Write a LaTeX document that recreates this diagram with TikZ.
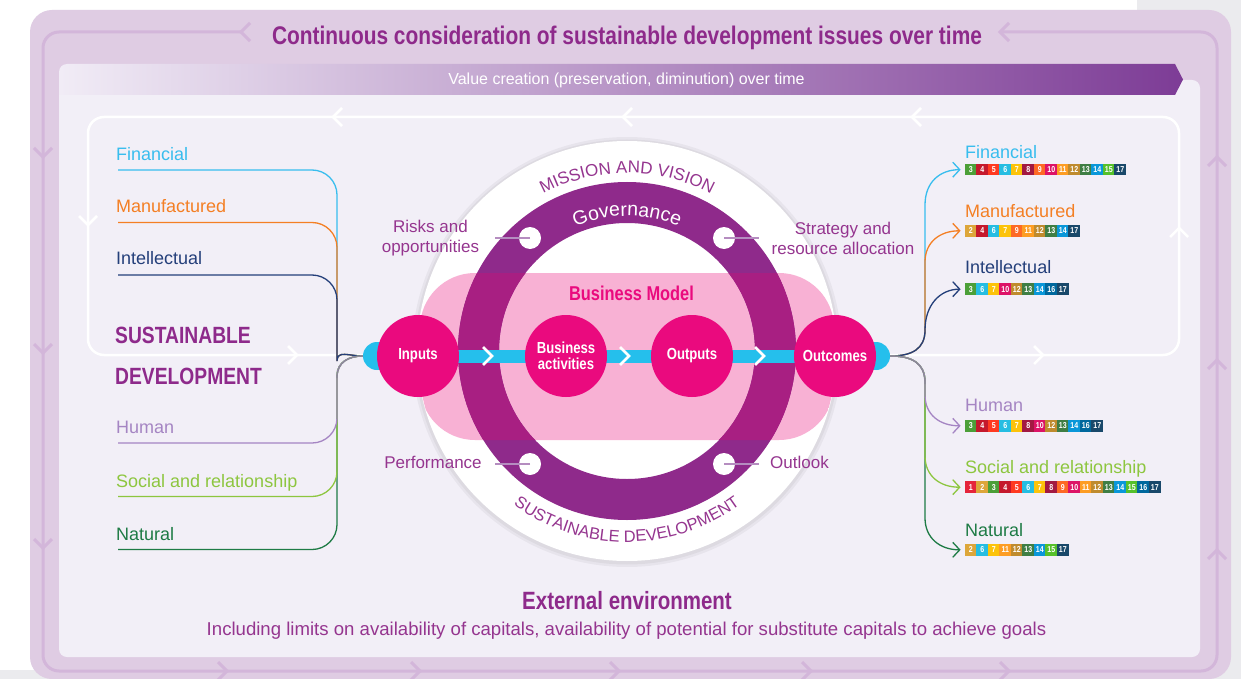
\documentclass[tikz,border=0pt]{standalone}
\usepackage{fontspec}
\setmainfont{Liberation Sans}
\newfontfamily\condf{Liberation Sans}[FakeStretch=0.82]
\usetikzlibrary{decorations.text,arrows.meta}
\definecolor{framec}{HTML}{DFCCE3}
\definecolor{framel}{HTML}{D3B6DA}
\definecolor{panelc}{HTML}{F2EFF7}
\definecolor{grayc}{HTML}{EBEBEE}
\definecolor{purpt}{HTML}{8E2A8B}
\definecolor{purpl}{HTML}{95358F}
\definecolor{ringc}{HTML}{8F2A8B}
\definecolor{ringp}{HTML}{A81F82}
\definecolor{pinkc}{HTML}{F8B1D4}
\definecolor{magc}{HTML}{EA0A7E}
\definecolor{cyanc}{HTML}{25BFEC}
\definecolor{leadc}{HTML}{B58DC0}
\definecolor{banl}{HTML}{F1ECF6}
\definecolor{banr}{HTML}{7D3C96}
\definecolor{finc}{HTML}{38BDEE}
\definecolor{manc}{HTML}{F47F24}
\definecolor{intc}{HTML}{243F7A}
\definecolor{humc}{HTML}{A585C3}
\definecolor{socc}{HTML}{8DC63F}
\definecolor{natc}{HTML}{1E7B45}
\definecolor{grayl}{HTML}{8C8898}
\definecolor{sdg1}{HTML}{E5243B}
\definecolor{sdg2}{HTML}{DDA63A}
\definecolor{sdg3}{HTML}{4C9F38}
\definecolor{sdg4}{HTML}{C5192D}
\definecolor{sdg5}{HTML}{FF3A21}
\definecolor{sdg6}{HTML}{26BDE2}
\definecolor{sdg7}{HTML}{FCC30B}
\definecolor{sdg8}{HTML}{A21942}
\definecolor{sdg9}{HTML}{FD6925}
\definecolor{sdg10}{HTML}{DD1367}
\definecolor{sdg11}{HTML}{FD9D24}
\definecolor{sdg12}{HTML}{BF8B2E}
\definecolor{sdg13}{HTML}{3F7E44}
\definecolor{sdg14}{HTML}{0A97D9}
\definecolor{sdg15}{HTML}{56C02B}
\definecolor{sdg16}{HTML}{00689D}
\definecolor{sdg17}{HTML}{19486A}
\tikzset{
  frameline/.style={draw=framel, line width=3pt},
  framechev/.style={draw=framel, line width=3pt},
  wline/.style={draw=white, line width=2.5pt},
  wchev/.style={draw=white, line width=2.5pt},
  barchev/.style={draw=white, line width=2.5pt},
  capl/.style={line width=1.3pt},
  capr/.style={line width=1.3pt, -{Straight Barb[length=7pt,width=15pt]}},
  leftlab/.style={anchor=base west, inner sep=0pt, font=\fontsize{18}{18}\selectfont},
  lbl/.style={text=purpl, inner sep=0pt, align=center, font=\fontsize{17}{20}\selectfont},
  bigc/.style={circle, fill=magc, minimum size=82pt, inner sep=0pt, text=white, align=center,
    font=\condf\bfseries\fontsize{16}{16.5}\selectfont},
  smallc/.style={circle, fill=cyanc, minimum size=28pt, inner sep=0pt},
  wdot/.style={circle, fill=white, minimum size=22pt, inner sep=0pt},
  leader/.style={draw=leadc, line width=1.3pt},
  bar/.style={draw=cyanc, line width=13pt},
  sdgbox/.style={minimum width=11.9pt, minimum height=11.5pt, inner sep=0pt, text=white,
    font=\condf\bfseries\fontsize{8.6}{8.6}\selectfont},
  condtitle/.style={inner sep=0pt, text=purpt, font=\condf\bfseries\fontsize{25.5}{26}\selectfont},
}
\newcommand\sdgrow[4]{%
  \foreach \n [count=\i from 0] in {#4} {%
    \node[sdgbox, fill=sdg\n] (#1\i) at ({#2+5.75+11.5*\i},#3) {\n};
  }}
\newcommand\chev[4]{%
  \draw[#4, rotate around={#3:(#1,#2)}] ({#1-9},{#2-9}) -- (#1,#2) -- ({#1-9},{#2+9});}
\begin{document}
\begin{tikzpicture}[x=1pt,y=-1pt]
\useasboundingbox (0,0) rectangle (1241,679);
\fill[white] (0,0) rectangle (1241,679);
\fill[grayc] (1137,0) rectangle (1241,679);
\fill[grayc] (0,670) rectangle (1241,679);
% outer frame
\fill[framec, rounded corners=22pt] (30,10) rectangle (1231,679);
\draw[frameline, rounded corners=16pt] (241,32) -- (43,32) -- (43,671) -- (1217,671) -- (1217,32) -- (1000,32);
\chev{241}{32}{180}{framechev}
\chev{1000}{32}{180}{framechev}
\chev{43}{157}{-90}{framechev}
\chev{43}{353}{-90}{framechev}
\chev{43}{548}{-90}{framechev}
\chev{227}{671}{0}{framechev}
\chev{420}{671}{0}{framechev}
\chev{619}{671}{0}{framechev}
\chev{811}{671}{0}{framechev}
\chev{1009}{671}{0}{framechev}
\chev{1217}{157}{90}{framechev}
\chev{1217}{360}{90}{framechev}
\chev{1217}{550}{90}{framechev}
\node[condtitle, anchor=base] (title) at (627,45) {Continuous consideration of sustainable development issues over time};
% panel
\fill[panelc, rounded corners=8pt] (59,80) rectangle (1200,657);
\shade[left color=banl, right color=banr] (59,95) -- (59,72) .. controls (59,67.6) and (62.6,64) .. (67,64) -- (1175,64) -- (1183,79.5) -- (1175,95) -- cycle;
\node[inner sep=0pt, text=white, font=\fontsize{16}{16}\selectfont] (vc) at (626.5,80) {Value creation (preservation, diminution) over time};
% white loop
\draw[wline, rounded corners=16pt] (88,117) rectangle (1179,355);
\chev{333}{117}{180}{wchev}
\chev{623}{117}{180}{wchev}
\chev{912}{117}{180}{wchev}
\chev{88}{225}{-90}{wchev}
\chev{297}{355}{0}{wchev}
\chev{1043}{355}{0}{wchev}
\chev{1179}{228}{90}{wchev}
% left big title
\node[inner sep=0pt, anchor=base west, text=purpt, font=\condf\bfseries\fontsize{23.5}{24}\selectfont] (sd1) at (115,343) {SUSTAINABLE};
\node[inner sep=0pt, anchor=base west, text=purpt, font=\condf\bfseries\fontsize{23.5}{24}\selectfont] (sd2) at (115,384) {DEVELOPMENT};
% central disc
\fill[black, opacity=0.045] (627,352) circle[radius=215pt];
\fill[black, opacity=0.045] (627,352) circle[radius=212.5pt];
\node[circle, fill=white, minimum size=420pt, inner sep=0pt] (disc) at (627,351) {};
\begin{scope}
  \clip (627,351) circle[radius=209.5pt];
  \fill[pinkc, rounded corners=55pt] (420,273) rectangle (834,440);
\end{scope}
\fill[ringc, even odd rule] (627,351) circle[radius=169pt] (627,351) circle[radius=128pt];
\begin{scope}
  \clip[rounded corners=55pt] (420,273) rectangle (834,440);
  \fill[ringp, even odd rule] (627,351) circle[radius=169pt] (627,351) circle[radius=128pt];
\end{scope}
\begin{scope}[shift={(627,351)}, y=1pt]
  \path[decorate, decoration={text along path, text align=center,
    text={|\fontsize{17}{17}\selectfont\color{purpl}|MISSION AND VISION}}]
    (150:178pt) arc[start angle=150, end angle=30, radius=178pt];
  \path[decorate, decoration={text along path, text align=center,
    text={|\fontsize{19.5}{19.5}\selectfont\color{white}|Governance}}]
    (150:135pt) arc[start angle=150, end angle=30, radius=135pt];
  \path[decorate, decoration={text along path, text align=center,
    text={|\fontsize{16.5}{16.5}\selectfont\color{purpl}|SUSTAINABLE DEVELOPMENT}}]
    (205:191pt) arc[start angle=205, end angle=335, radius=191pt];
\end{scope}
\node[inner sep=0pt, text=magc, font=\condf\bfseries\fontsize{20}{20}\selectfont] (bmodel) at (631.5,293.5) {Business Model};
% ring dots and labels
\node[wdot] (dRO) at (530,238) {};
\node[wdot] (dSR) at (724,238) {};
\node[wdot] (dPF) at (530,464) {};
\node[wdot] (dOL) at (724,464) {};
\draw[leader] (dRO.center) -- ++(-35,0);
\draw[leader] (dSR.center) -- ++(35,0);
\draw[leader] (dPF.center) -- ++(-35,0);
\draw[leader] (dOL.center) -- ++(35,0);
\node[lbl] (risks) at (430.5,238) {Risks and\\opportunities};
\node[lbl] (strat) at (843,238) {Strategy and\\resource allocation};
\node[lbl, anchor=base] (perf) at (433,468.5) {Performance};
\node[lbl, anchor=base] (outl) at (799.5,468.5) {Outlook};
% value chain
\node[smallc] (inL) at (377,356) {};
\node[smallc] (outR) at (876,356) {};
\draw[bar] (inL.center) -- (outR.center);
\chev{492}{356}{0}{barchev}
\chev{629}{356}{0}{barchev}
\chev{764}{356}{0}{barchev}
\node[bigc] (inputs) at (418,356) {Inputs};
\node[bigc] (bact) at (566,356) {Business\\activities};
\node[bigc] (outp) at (692,356) {Outputs};
\node[bigc] (outc) at (835,356) {Outcomes};
% left capitals
\node[leftlab, text=finc] (lFin) at (116,160.5) {Financial};
\node[leftlab, text=manc] (lMan) at (116,212.5) {Manufactured};
\node[leftlab, text=intc] (lInt) at (116,264.5) {Intellectual};
\node[leftlab, text=humc] (lHum) at (116,433) {Human};
\node[leftlab, text=socc] (lSoc) at (116,487) {Social and relationship};
\node[leftlab, text=natc] (lNat) at (116,540) {Natural};
\coordinate (uFin) at (118,170);
\coordinate (uMan) at (118,222.5);
\coordinate (uInt) at (118,275);
\coordinate (uHum) at (118,443);
\coordinate (uSoc) at (118,496.5);
\coordinate (uNat) at (118,549.5);
\draw[capl, finc, rounded corners=25pt] (uFin) -- (337,170) -- (337,336) [sharp corners] .. controls (337,350) and (349,356) .. (inL.west);
\draw[capl, manc, rounded corners=25pt] (uMan) -- (337,222.5) -- (337,336) [sharp corners] .. controls (337,350) and (349,356) .. (inL.west);
\draw[capl, intc, rounded corners=25pt] (uInt) -- (337,275) -- (337,336) [sharp corners] .. controls (337,350) and (349,356) .. (inL.west);
\draw[capl, natc] (inL.west) .. controls (349,356) and (337,362) .. (337,376) [rounded corners=25pt] -- (337,549.5) -- (uNat);
\draw[capl, socc] (inL.west) .. controls (349,356) and (337,362) .. (337,376) [rounded corners=25pt] -- (337,496.5) -- (uSoc);
\draw[capl, humc] (inL.west) .. controls (349,356) and (337,362) .. (337,376) [rounded corners=25pt] -- (337,443) -- (uHum);
\draw[capl, grayl] (inL.west) .. controls (349,356) and (337,362) .. (337,378);
% right capitals
\node[leftlab, text=finc] (rFin) at (965,158.3) {Financial};
\node[leftlab, text=manc] (rMan) at (965,217.3) {Manufactured};
\node[leftlab, text=intc] (rInt) at (965,273.3) {Intellectual};
\node[leftlab, text=humc] (rHum) at (965,411.7) {Human};
\node[leftlab, text=socc] (rSoc) at (965,473.3) {Social and relationship};
\node[leftlab, text=natc] (rNat) at (965,536.7) {Natural};
\sdgrow{fin}{965}{169.7}{3,4,5,6,7,8,9,10,11,12,13,14,15,17}
\sdgrow{man}{965}{230.8}{2,4,6,7,9,11,12,13,14,17}
\sdgrow{int}{965}{289.2}{3,6,7,10,12,13,14,16,17}
\sdgrow{hum}{965}{425.8}{3,4,5,6,7,8,10,12,13,14,16,17}
\sdgrow{soc}{965}{487.2}{1,2,3,4,5,6,7,8,9,10,11,12,13,14,15,16,17}
\sdgrow{nat}{965}{549.8}{2,6,7,11,12,13,14,15,17}
\draw[capr, finc] (outR.east) .. controls (912,356) and (925,349) .. (925,330) -- (925,205) .. controls (925,182) and (940,169.7) .. ([xshift=-4pt]fin0.west);
\draw[capr, manc] (outR.east) .. controls (912,356) and (925,349) .. (925,330) -- (925,262) .. controls (925,242) and (940,230.8) .. ([xshift=-4pt]man0.west);
\draw[capr, intc] (outR.east) .. controls (912,356) and (925,349) .. (925,330) .. controls (925,305) and (940,289.2) .. ([xshift=-4pt]int0.west);
\draw[capr, natc] (outR.east) .. controls (912,356) and (925,363) .. (925,382) -- (925,518) .. controls (925,538) and (940,549.8) .. ([xshift=-4pt]nat0.west);
\draw[capr, socc] (outR.east) .. controls (912,356) and (925,363) .. (925,382) -- (925,456) .. controls (925,476) and (940,487.2) .. ([xshift=-4pt]soc0.west);
\draw[capr, humc] (outR.east) .. controls (912,356) and (925,363) .. (925,382) -- (925,395) .. controls (925,415) and (940,425.8) .. ([xshift=-4pt]hum0.west);
\draw[capl, grayl] (outR.east) .. controls (912,356) and (925,363) .. (925,384);
% external environment
\node[inner sep=0pt, text=purpt, font=\condf\bfseries\fontsize{25}{25}\selectfont, anchor=base] (ext) at (627,609) {External environment};
\node[inner sep=0pt, text=purpl, font=\fontsize{18.6}{18.6}\selectfont, anchor=base] (incl) at (626.5,635) {Including limits on availability of capitals, availability of potential for substitute capitals to achieve goals};
\end{tikzpicture}
\end{document}
